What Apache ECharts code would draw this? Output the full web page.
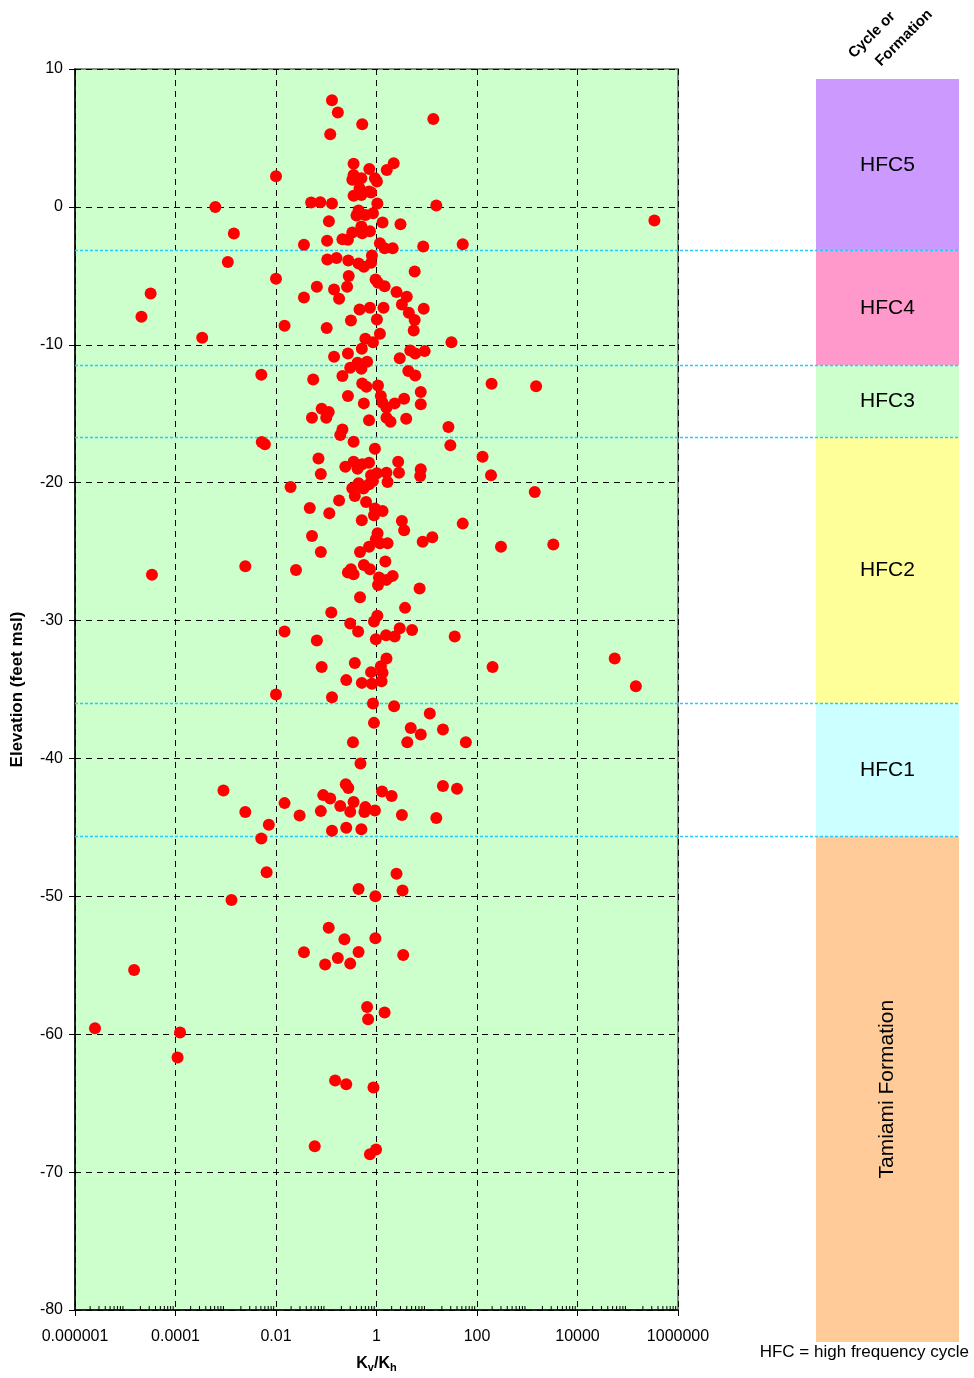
<!DOCTYPE html>
<html>
<head>
<meta charset="utf-8">
<script src="https://cdn.jsdelivr.net/npm/echarts/dist/echarts.min.js"></script>
<style>
html,body{margin:0;padding:0;background:#fff;}
#chart{width:974px;height:1378px;}
</style>
</head>
<body>
<div id="chart"></div>
<script>
// ---- data ----
var kvkhRatio = [
 0.13,0.17,0.52,0.12,13.5,0.01,0.35,0.72,2.2,1.6,0.35,0.33,0.50,0.93,1.02,0.46,0.71,0.35,0.50,0.78,
 0.00062,0.00145,0.05,0.076,0.13,1.04,15.5,339000,0.44,0.40,0.60,0.85,0.113,1.32,3.0,0.50,0.74,0.33,0.52,0.21,
 0.27,0.104,0.036,1.17,1.45,2.1,8.5,52,
 0.0011,0.01,0.000032,0.000021,0.00034,0.105,0.16,0.275,0.44,0.56,0.78,0.81,5.75,0.28,0.26,0.143,0.065,0.18,0.036,0.96,
 1.07,1.45,2.5,4.0,3.2,8.7,4.4,5.75,5.5,1.38,0.74,0.46,0.31,1.02,0.0148,0.102,1.17,0.60,0.85,0.51,
 31,0.27,0.143,4.7,5.9,9.1,2.9,0.42,0.65,0.50,0.30,0.21,0.0051,0.055,4.3,5.9,195,1500,0.52,0.63,
 1.07,0.27,0.56,1.22,1.32,1.58,2.3,3.55,7.6,7.6,0.081,0.112,0.1,0.052,0.71,1.58,1.9,3.9,27,0.21,
 0.19,0.35,0.93,0.0052,0.006,29.5,
 0.07,129,190,0.24,0.35,0.42,0.52,0.71,2.7,2.8,7.6,7.4,0.078,0.78,1.02,1.58,1.66,0.85,0.71,0.44,
 0.33,0.55,0.37,0.0195,1410,0.18,0.62,0.047,0.115,0.93,1.32,0.89,0.51,3.2,3.55,52,1.05,0.97,1.17,1.66,
 8.3,12.9,300,3300,0.052,0.078,0.47,0.71,1.5,0.00245,0.000034,0.025,0.56,0.74,0.27,0.35,0.31,1.12,1.58,2.1,
 1.07,7.2,0.47,3.7,0.126,1.04,0.89,0.30,0.43,2.9,5.1,0.0148,36,0.065,1.55,2.3,0.97,
 204,55000,145000,0.081,0.37,1.58,1.22,0.78,1.32,0.25,0.51,0.81,1.26,0.01,0.13,0.85,2.24,11.5,0.89,4.8,
 7.6,21,60,4.1,0.34,0.48,0.0009,0.245,0.275,21,40,1.29,2.0,0.087,0.12,0.0148,0.00245,0.0295,0.078,0.19,
 0.35,0.30,0.60,0.575,0.93,3.2,15.5,0.0072,0.13,0.25,0.50,
 0.0051,0.0065,2.5,0.44,0.95,3.3,0.0013,0.112,0.23,0.95,0.036,0.44,3.4,0.17,0.30,0.095,0.000015,0.65,1.45,0.68,
 0.0000025,0.000123,0.00011,0.15,0.25,0.87,0.059,0.74,0.98
];
var elevationFt = [
 7.73,6.84,5.99,5.27,6.38,2.22,3.12,2.75,3.16,2.68,2.32,1.96,2.08,2.08,1.84,1.35,1.11,0.80,0.87,1.04,
 0.0,-1.93,0.31,0.34,0.24,0.24,0.10,-0.99,-0.27,-0.63,-0.58,-0.46,-1.04,-1.14,-1.26,-1.43,-1.76,-1.86,-1.91,-2.34,
 -2.39,-2.46,-2.75,-2.63,-3.0,-3.0,-2.87,-2.71,
 -3.99,-5.22,-6.28,-7.97,-9.49,-3.82,-3.70,-3.89,-4.11,-4.35,-4.06,-3.53,-4.69,-5.02,-5.80,-5.99,-5.80,-6.67,-6.57,-5.27,
 -5.51,-5.75,-6.18,-6.52,-7.08,-7.39,-7.68,-8.21,-8.96,-7.32,-7.32,-7.44,-8.24,-8.16,-8.62,-8.79,-9.20,-9.57,-9.81,-10.29,
 -9.81,-10.63,-10.87,-10.41,-10.63,-10.46,-10.97,-11.30,-11.23,-11.74,-11.67,-12.27,-12.17,-12.51,-11.91,-12.22,-12.83,-13.0,-12.80,-13.04,
 -12.95,-13.72,-14.25,-13.72,-14.20,-14.57,-14.25,-13.91,-13.43,-14.32,-14.64,-14.88,-15.29,-15.29,-15.48,-15.29,-15.58,-15.36,-15.97,-16.14,
 -16.55,-17.03,-17.54,-17.05,-17.22,-17.29,
 -18.24,-18.12,-19.47,-18.84,-18.48,-18.99,-18.67,-18.55,-18.48,-19.28,-19.03,-19.52,-19.37,-19.47,-19.32,-19.28,-19.95,-19.88,-20.12,-20.05,
 -20.41,-20.43,-20.97,-20.31,-20.68,-21.30,-21.40,-21.84,-22.22,-21.88,-22.05,-22.37,-22.73,-22.78,-23.45,-22.97,-23.67,-24.11,-24.40,-24.40,
 -24.28,-23.96,-24.64,-24.49,-23.86,-25.02,-25.02,-24.64,-25.72,-26.06,-26.67,-26.33,-25.97,-26.28,-26.52,-26.64,-26.28,-26.88,-27.05,-26.76,
 -27.42,-27.68,-28.31,-29.08,-29.42,-29.66,-30.07,-30.22,-30.80,-30.56,-30.68,-30.80,-31.16,-31.45,-31.06,-31.16,-31.35,
 -33.36,-32.75,-34.76,-33.36,-33.07,-32.75,-33.31,-33.74,-33.79,-34.32,-34.52,-34.59,-34.40,-35.36,-35.56,-36.01,-36.21,-36.74,-37.42,-37.80,
 -38.26,-37.90,-38.82,-38.82,-38.82,-40.36,-42.32,-41.88,-42.15,-42.00,-42.20,-42.39,-42.73,-42.66,-42.90,-43.24,-43.89,-44.13,-43.82,-43.45,
 -43.16,-43.86,-43.53,-43.89,-43.77,-44.11,-44.32,-44.81,-45.24,-45.02,-45.14,
 -45.80,-48.26,-48.36,-49.47,-50.0,-49.57,-50.27,-52.27,-53.12,-53.04,-54.06,-54.03,-54.25,-54.47,-54.88,-54.95,-55.34,-58.02,-58.43,-58.91,
 -59.57,-59.88,-61.69,-63.36,-63.62,-63.86,-68.12,-68.70,-68.36
];
var xTickLabels = ['0.000001','0.0001','0.01','1','100','10000','1000000'];
var yTickLabels = ['10','0','-10','-20','-30','-40','-50','-60','-70','-80'];
var bandNames = ['HFC5','HFC4','HFC3','HFC2','HFC1','Tamiami Formation'];
var bandTop = [9.3,-3.15,-11.45,-16.65,-35.93,-45.57];
var bandBottom = [-3.15,-11.45,-16.65,-35.93,-45.57,-82.2];
var bandColors = ['#CC99FF','#FF99CC','#CCFFCC','#FFFF99','#CCFFFF','#FFCC99'];
var boundaryElev = [-3.15,-11.45,-16.65,-35.93,-45.57];
var minorTickValues = [];
for (var e = -6; e < 6; e++) { for (var m = 2; m <= 9; m++) { minorTickValues.push(m * Math.pow(10, e)); } }

var FONT = 'Liberation Sans, Arial, sans-serif';
var points = kvkhRatio.map(function (k, i) { return [k, elevationFt[i]]; });

var chart = echarts.init(document.getElementById('chart'), null, {renderer: 'canvas'});
var option = {
  animation: false,
  backgroundColor: '#ffffff',
  textStyle: {fontFamily: FONT},
  grid: [
    {left: 75, top: 69, width: 603, height: 1242, show: true, backgroundColor: '#CCFFCC', borderColor: '#888888', borderWidth: 2},
    {left: 816, top: 79, width: 143, height: 1263, show: false},
    {left: 75, top: 69, width: 884, height: 1242, show: false}
  ],
  xAxis: [
    {type: 'log', logBase: 10, min: 1e-6, max: 1e6, interval: 2, gridIndex: 0,
     name: '{a|K}{b|v}{a|/K}{b|h}', nameLocation: 'middle', nameGap: 44,
     nameTextStyle: {rich: {a: {fontSize: 16, fontWeight: 'bold', fontFamily: FONT, color: '#000'}, b: {fontSize: 11, fontWeight: 'bold', fontFamily: FONT, color: '#000', padding: [8, 0, 0, 0]}}},
     axisLine: {show: true, onZero: false, lineStyle: {color: '#000', width: 1.5}},
     axisTick: {show: true, length: 6, lineStyle: {color: '#000', width: 1}},
     axisLabel: {margin: 19, fontSize: 16, color: '#000', fontFamily: FONT,
       formatter: function (v) { var ex = Math.round(Math.log10(v)); var idx = (ex + 6) / 2; return (idx % 1 === 0 && xTickLabels[idx]) ? xTickLabels[idx] : ''; }},
     splitLine: {show: true, lineStyle: {color: '#000', type: [6, 5], width: 1}}
    },
    {type: 'value', min: 0, max: 1, gridIndex: 1, show: false},
    {type: 'value', min: 0, max: 1, gridIndex: 2, show: false}
  ],
  yAxis: [
    {type: 'value', min: -80, max: 10, interval: 10, gridIndex: 0,
     name: 'Elevation (feet msl)', nameLocation: 'middle', nameGap: 49, nameRotate: 90,
     nameTextStyle: {fontSize: 17, fontWeight: 'bold', color: '#000', fontFamily: FONT},
     axisLine: {show: true, onZero: false, lineStyle: {color: '#000', width: 1.5}},
     axisTick: {show: true, length: 6, lineStyle: {color: '#000', width: 1}},
     axisLabel: {margin: 12, fontSize: 16, color: '#000', fontFamily: FONT,
       formatter: function (v) { var idx = Math.round((10 - v) / 10); return yTickLabels[idx]; }},
     splitLine: {show: true, lineStyle: {color: '#000', type: [6, 5], width: 1}}
    },
    {type: 'value', min: -82.2, max: 9.3, gridIndex: 1, show: false},
    {type: 'value', min: -80, max: 10, gridIndex: 2, show: false}
  ],
  series: [
    {
      type: 'custom', xAxisIndex: 1, yAxisIndex: 1, silent: true, z: 1,
      data: bandTop.map(function (t, i) { return [t, bandBottom[i], i]; }),
      encode: {y: [0, 1]},
      renderItem: function (params, api) {
        var i = api.value(2);
        var p1 = api.coord([0, api.value(0)]);
        var p2 = api.coord([1, api.value(1)]);
        var cx = (p1[0] + p2[0]) / 2, cy = (p1[1] + p2[1]) / 2;
        var rot = bandNames[i].length > 6 ? Math.PI / 2 : 0;
        return {type: 'group', children: [
          {type: 'rect', shape: {x: p1[0], y: p1[1], width: p2[0] - p1[0], height: p2[1] - p1[1]}, style: {fill: bandColors[i]}},
          {type: 'text', x: cx, y: cy, rotation: rot, style: {text: bandNames[i], fill: '#000', fontSize: 21, fontFamily: FONT, align: 'center', verticalAlign: 'middle'}}
        ]};
      }
    },
    {
      type: 'line', xAxisIndex: 2, yAxisIndex: 2, data: [], silent: true, z: 2,
      markLine: {silent: true, symbol: 'none', label: {show: false},
        lineStyle: {color: '#22CCFF', type: [3, 2], width: 1.3},
        data: boundaryElev.map(function (b) { return {yAxis: b}; })}
    },
    {
      type: 'custom', xAxisIndex: 0, yAxisIndex: 0, silent: true, z: 3, clip: false,
      data: minorTickValues.map(function (v) { return [v, -80]; }),
      renderItem: function (params, api) {
        var p = api.coord([api.value(0), api.value(1)]);
        return {type: 'line', shape: {x1: p[0], y1: p[1], x2: p[0], y2: p[1] - 4}, style: {stroke: '#000', lineWidth: 1}};
      }
    },
    {
      type: 'scatter', xAxisIndex: 0, yAxisIndex: 0, z: 5,
      symbol: 'circle', symbolSize: 12,
      itemStyle: {color: '#FF0000', opacity: 1},
      data: points
    }
  ],
  graphic: [
    {type: 'text', x: 872, y: 35, rotation: Math.PI / 4, style: {text: 'Cycle or', fill: '#000', fontSize: 15, fontWeight: 'bold', fontFamily: FONT, align: 'center', verticalAlign: 'middle'}},
    {type: 'text', x: 904, y: 38, rotation: Math.PI / 4, style: {text: 'Formation', fill: '#000', fontSize: 15, fontWeight: 'bold', fontFamily: FONT, align: 'center', verticalAlign: 'middle'}},
    {type: 'text', x: 969, y: 1352, style: {text: 'HFC = high frequency cycle', fill: '#000', fontSize: 17, fontFamily: FONT, align: 'right', verticalAlign: 'middle'}}
  ]
};
chart.setOption(option);
</script>
</body>
</html>
